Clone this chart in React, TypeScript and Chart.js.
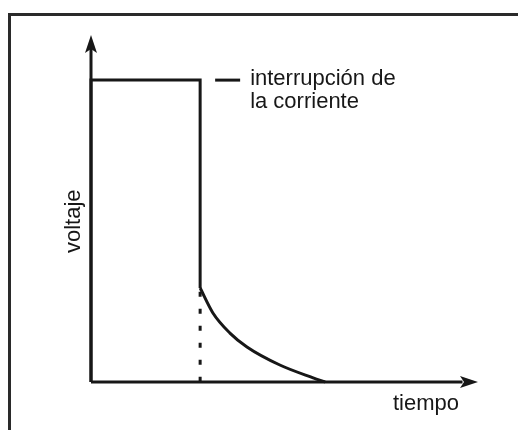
import React, { useEffect, useRef } from "react";
import { Chart, registerables } from "chart.js";

Chart.register(...registerables);

// Data (arbitrary units: tiempo 0..10, voltaje 0..10)
const stepTime = [0, 0, 2.82, 2.82];
const stepVolt = [0, 8.7, 8.7, 2.71];
const decayTime = [2.82, 3.15, 3.59, 4.03, 4.88, 5.74, 6.05];
const decayVolt = [2.71, 1.99, 1.41, 1.01, 0.49, 0.12, 0];
const dropTime = [2.82, 2.82];
const dropVolt = [2.6, 0];
const axisMax = 10;
const axisLineEnd = 9.6;
const labelInterrupt = ["interrupción de", "la corriente"];
const labelX = "tiempo";
const labelY = "voltaje";

const INK = "#171717";

const pts = (xs: number[], ys: number[]) => xs.map((x, i) => ({ x, y: ys[i] }));

const annotPlugin = {
  id: "annot",
  afterDatasetsDraw(chart: any) {
    const { ctx, scales } = chart;
    const xs = scales.x;
    const ys = scales.y;
    const x0 = xs.getPixelForValue(0);
    const y0 = ys.getPixelForValue(0);
    const xTip = xs.getPixelForValue(axisMax);
    const yTip = ys.getPixelForValue(axisMax);
    ctx.save();
    ctx.fillStyle = INK;
    // y arrow
    ctx.beginPath();
    ctx.moveTo(x0, yTip);
    ctx.lineTo(x0 + 6, yTip + 18);
    ctx.lineTo(x0, yTip + 14);
    ctx.lineTo(x0 - 6, yTip + 18);
    ctx.closePath();
    ctx.fill();
    // x arrow
    ctx.beginPath();
    ctx.moveTo(xTip, y0);
    ctx.lineTo(xTip - 18, y0 - 6);
    ctx.lineTo(xTip - 14, y0);
    ctx.lineTo(xTip - 18, y0 + 6);
    ctx.closePath();
    ctx.fill();

    // leader dash for label
    const topY = ys.getPixelForValue(stepVolt[1]);
    const dropX = xs.getPixelForValue(stepTime[2]);
    ctx.strokeStyle = INK;
    ctx.lineWidth = 3;
    ctx.beginPath();
    ctx.moveTo(dropX + 15, topY);
    ctx.lineTo(dropX + 40, topY);
    ctx.stroke();

    ctx.font = '22px "Liberation Sans", Arial, sans-serif';
    ctx.textBaseline = "alphabetic";
    ctx.textAlign = "left";
    ctx.fillText(labelInterrupt[0], dropX + 50, topY + 5);
    ctx.fillText(labelInterrupt[1], dropX + 50, topY + 28);

    ctx.fillText(labelX, 393, y0 + 28);

    ctx.save();
    ctx.translate(x0 - 11, 253);
    ctx.rotate(-Math.PI / 2);
    ctx.fillText(labelY, 0, 0);
    ctx.restore();
    ctx.restore();
  },
};

export default function App() {
  const ref = useRef<HTMLCanvasElement | null>(null);
  useEffect(() => {
    if (!ref.current) return;
    const common = {
      showLine: true,
      pointRadius: 0,
      borderColor: INK,
      borderWidth: 3,
      fill: false,
      clip: false as any,
      borderJoinStyle: "miter" as const,
      borderCapStyle: "butt" as const,
    };
    const chart = new Chart(ref.current, {
      type: "scatter",
      data: {
        datasets: [
          { ...common, data: pts([0, axisLineEnd], [0, 0]) },
          { ...common, data: pts([0, 0], [0, axisLineEnd]) },
          { ...common, data: pts(stepTime, stepVolt), tension: 0 },
          { ...common, data: pts(decayTime, decayVolt), cubicInterpolationMode: "monotone" },
          { ...common, data: pts(dropTime, dropVolt), borderDash: [5, 12] },
        ],
      },
      options: {
        animation: false,
        responsive: true,
        maintainAspectRatio: false,
        devicePixelRatio: 1,
        layout: { padding: { left: 91, right: 40, top: 35, bottom: 48 } },
        plugins: { legend: { display: false }, tooltip: { enabled: false }, title: { display: false } },
        events: [],
        scales: {
          x: { type: "linear", min: 0, max: axisMax, display: false },
          y: { type: "linear", min: 0, max: axisMax, display: false },
        },
      },
      plugins: [annotPlugin],
    });
    return () => chart.destroy();
  }, []);

  return (
    <div style={{ position: "absolute", left: 0, top: 0, width: 518, height: 430, background: "#fff" }}>
      <div
        style={{
          position: "absolute",
          left: 8,
          top: 13,
          width: 510,
          height: 417,
          borderTop: "3px solid #2a2a2a",
          borderLeft: "3px solid #2a2a2a",
          boxSizing: "border-box",
        }}
      />
      <div style={{ position: "absolute", left: 0, top: 0, width: 518, height: 430 }}>
        <canvas ref={ref} />
      </div>
    </div>
  );
}
